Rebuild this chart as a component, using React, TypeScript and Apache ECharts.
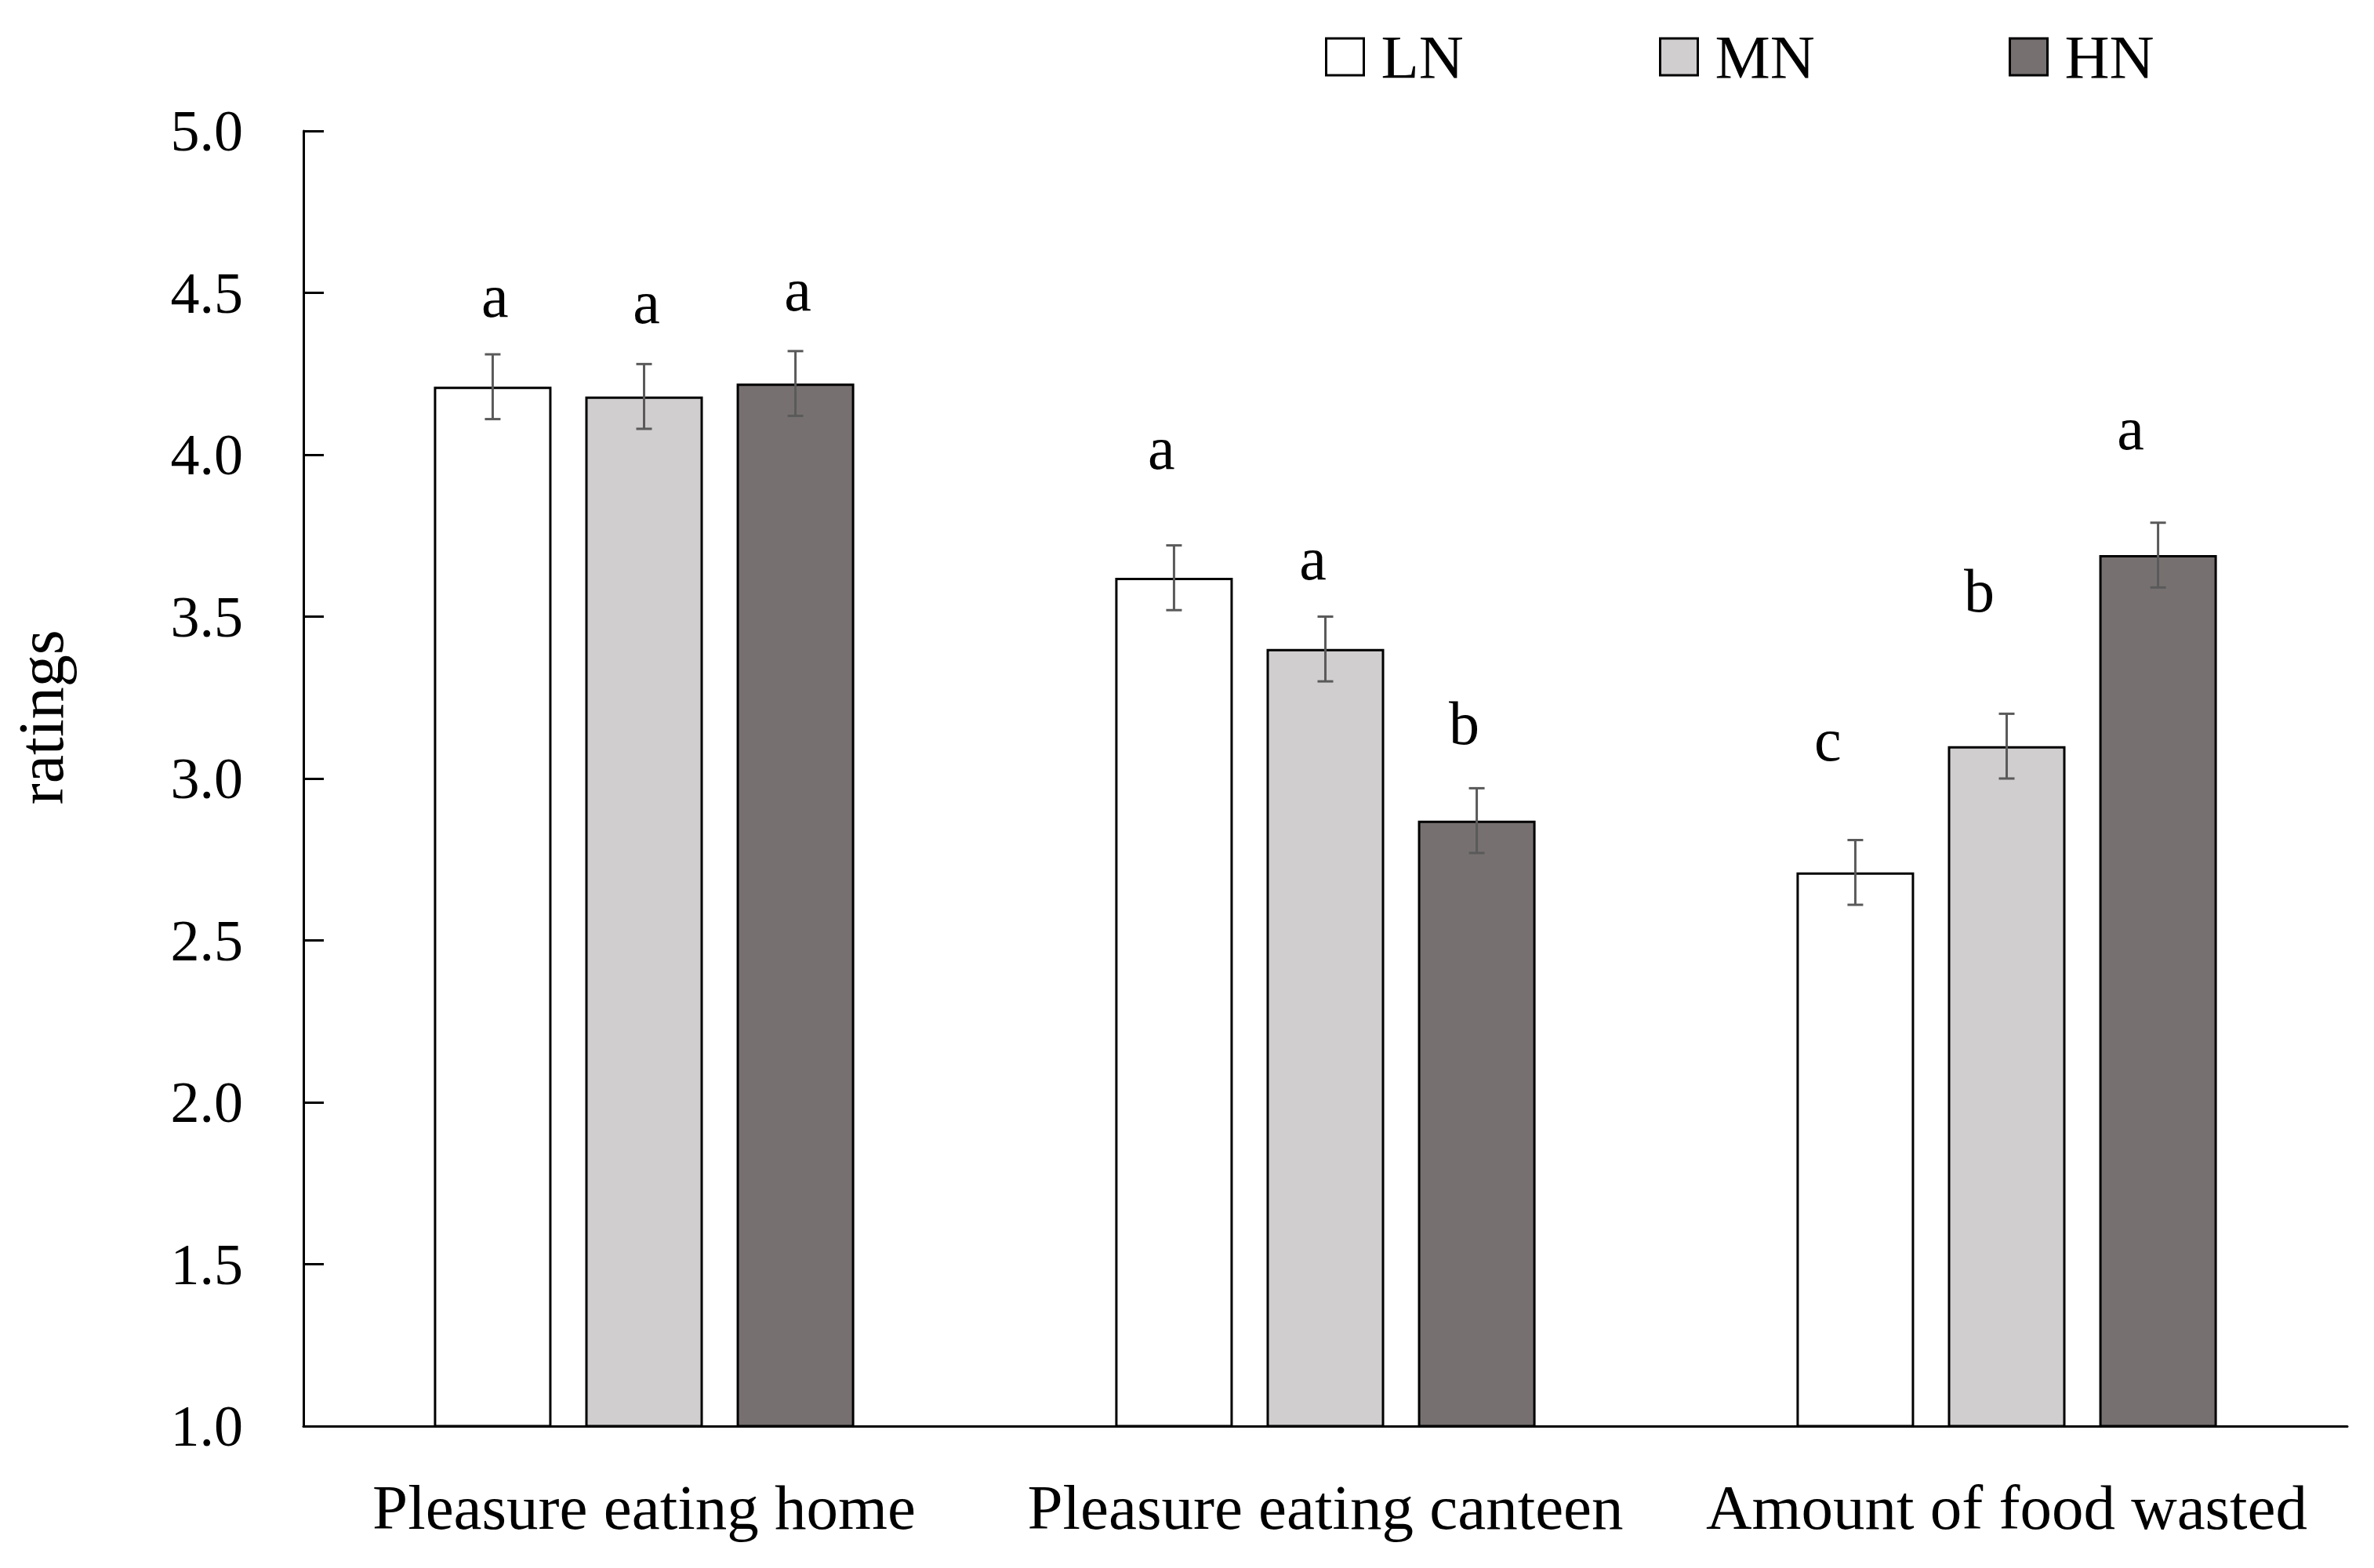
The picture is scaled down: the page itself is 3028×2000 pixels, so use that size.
import React, { useEffect, useRef } from "react";
import * as echarts from "echarts";

const categories = ["Pleasure eating home", "Pleasure eating canteen", "Amount of food wasted"];
const groupNames = ["LN", "MN", "HN"];
const lnValues = [4.21, 3.62, 2.71];
const mnValues = [4.18, 3.40, 3.10];
const hnValues = [4.22, 2.87, 3.69];
const lnErrors = [0.10, 0.10, 0.10];
const mnErrors = [0.10, 0.10, 0.10];
const hnErrors = [0.10, 0.10, 0.10];
const lnLetters = ["a", "a", "c"];
const mnLetters = ["a", "a", "b"];
const hnLetters = ["a", "b", "a"];
const lnLetterY = [4.49, 4.02, 3.12];
const mnLetterY = [4.47, 3.68, 3.58];
const hnLetterY = [4.51, 3.17, 4.08];
const yTicks = [1.0, 1.5, 2.0, 2.5, 3.0, 3.5, 4.0, 4.5, 5.0];
const yAxisTitle = "ratings";

const FONT = "'Liberation Serif', 'Times New Roman', serif";
const colors = ["#ffffff", "#d0cecf", "#767170"];
const BAR_GAP = 0.287;
const CAT_GAP = 0.383;
const LETTER_DX = [3, -16, -35];

export default function App() {
  const ref = useRef<HTMLDivElement>(null);
  useEffect(() => {
    if (!ref.current) return;
    const chart = echarts.init(ref.current, undefined, { renderer: "svg" });
    const values = [lnValues, mnValues, hnValues];
    const errors = [lnErrors, mnErrors, hnErrors];
    const letters = [lnLetters, mnLetters, hnLetters];
    const letterY = [lnLetterY, mnLetterY, hnLetterY];
    const legendLeft = [1690, 2116, 2562];

    const barSeries = groupNames.map((name, g) => ({
      type: "bar",
      name,
      data: values[g],
      barGap: BAR_GAP * 100 + "%",
      barCategoryGap: CAT_GAP * 100 + "%",
      itemStyle: { color: colors[g], borderColor: "#000", borderWidth: 3 },
      z: 2,
    }));

    const errSeries = groupNames.map((name, g) => ({
      type: "custom",
      name: name + " error",
      z: 10,
      encode: { x: 0, y: 1 },
      data: categories.map((_, i) => [i, values[g][i], errors[g][i], letterY[g][i]]),
      renderItem: (params: any, api: any) => {
        const cat = api.value(0);
        const v = api.value(1);
        const e = api.value(2);
        const ly = api.value(3);
        const center = api.coord([cat, v]);
        const bw = api.size([1, 0])[0];
        const barW = (bw * (1 - CAT_GAP)) / (3 + 2 * BAR_GAP);
        const x = center[0] - (bw * (1 - CAT_GAP)) / 2 + g * barW * (1 + BAR_GAP) + barW / 2;
        const top = api.coord([cat, v + e])[1];
        const bot = api.coord([cat, v - e])[1];
        const ty = api.coord([cat, ly])[1];
        const ls = { stroke: "#5a5a5a", lineWidth: 3 };
        const cap = 10;
        return {
          type: "group",
          children: [
            { type: "line", shape: { x1: x, y1: top, x2: x, y2: bot }, style: ls },
            { type: "line", shape: { x1: x - cap, y1: top, x2: x + cap, y2: top }, style: ls },
            { type: "line", shape: { x1: x - cap, y1: bot, x2: x + cap, y2: bot }, style: ls },
            {
              type: "text",
              x: x + LETTER_DX[params.dataIndex],
              y: ty,
              style: {
                text: letters[g][params.dataIndex],
                fontSize: 78,
                fontFamily: FONT,
                fill: "#000",
                align: "center",
                verticalAlign: "middle",
              },
            },
          ],
        };
      },
    }));

    const option: any = {
      animation: false,
      backgroundColor: "#ffffff",
      grid: { left: 387, right: 34, top: 167, bottom: 181, containLabel: false },
      legend: groupNames.map((n, g) => ({
        data: [n],
        left: legendLeft[g],
        top: 33,
        padding: 0,
        icon: "rect",
        itemWidth: 48,
        itemHeight: 47,
        itemGap: 0,
        selectedMode: false,
        itemStyle: { borderColor: "#000", borderWidth: 3 },
        textStyle: { fontSize: 79, fontFamily: FONT, color: "#000", padding: [0, 0, 0, 17] },
      })),
      graphic: [
        {
          type: "text",
          x: 52,
          y: 915,
          rotation: Math.PI / 2,
          style: {
            text: yAxisTitle,
            fontSize: 82,
            fontFamily: FONT,
            fill: "#000",
            align: "center",
            verticalAlign: "middle",
          },
        },
      ],
      xAxis: {
        type: "category",
        data: categories,
        axisLine: { show: true, lineStyle: { color: "#000", width: 3 } },
        axisTick: { show: false },
        axisLabel: { interval: 0, margin: 63, fontSize: 81, fontFamily: FONT, color: "#000" },
        splitLine: { show: false },
      },
      yAxis: {
        type: "value",
        min: yTicks[0],
        max: yTicks[yTicks.length - 1],
        interval: 0.5,
        axisLine: { show: true, lineStyle: { color: "#000", width: 3 } },
        axisTick: { show: true, inside: true, length: 26, lineStyle: { color: "#000", width: 3 } },
        axisLabel: {
          margin: 77,
          fontSize: 74,
          fontFamily: FONT,
          color: "#000",
          formatter: (v: number) => v.toFixed(1),
        },
        splitLine: { show: false },
      },
      series: [...barSeries, ...errSeries],
    };
    chart.setOption(option);
    return () => chart.dispose();
  }, []);
  return (
    <div
      ref={ref}
      style={{ position: "absolute", left: 0, top: 0, width: 3028, height: 2000, background: "#fff" }}
    />
  );
}
